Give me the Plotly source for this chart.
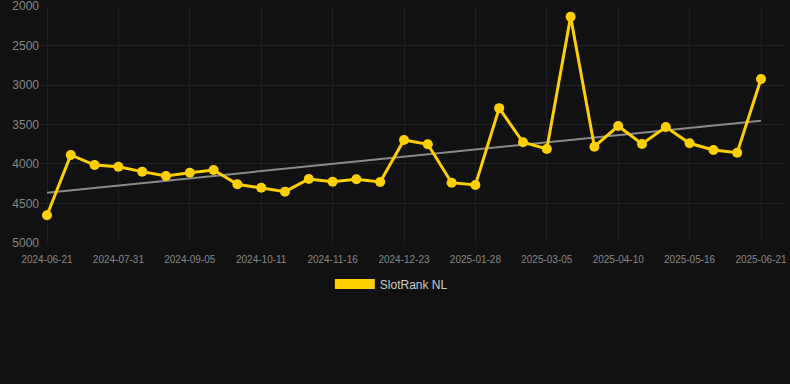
import plotly.graph_objects as go

dates = [
    "2024-06-21", "2024-07-04", "2024-07-17", "2024-07-31", "2024-08-12", "2024-08-24",
    "2024-09-05", "2024-09-17", "2024-09-29", "2024-10-11", "2024-10-23", "2024-11-04",
    "2024-11-16", "2024-11-28", "2024-12-11", "2024-12-23", "2025-01-04", "2025-01-16",
    "2025-01-28", "2025-02-09", "2025-02-21", "2025-03-05", "2025-03-17", "2025-03-29",
    "2025-04-10", "2025-04-22", "2025-05-04", "2025-05-16", "2025-05-28", "2025-06-09",
    "2025-06-21",
]
rank = [
    4650, 3886, 4013, 4034, 4097, 4152, 4110, 4076, 4257, 4300, 4350, 4190,
    4224, 4194, 4228, 3696, 3751, 4237, 4266, 3293, 3725, 3810, 2135, 3781,
    3519, 3747, 3532, 3738, 3823, 3857, 2924,
]
trend_dates = [dates[0], dates[-1]]
trend_vals = [4364, 3452]
tick_labels = dates[::3]
y_ticks = [2000, 2500, 3000, 3500, 4000, 4500, 5000]

YELLOW = "#FFD000"
FONT = "Liberation Sans, Arial, sans-serif"

fig = go.Figure()
fig.add_trace(go.Scatter(
    x=trend_dates, y=trend_vals, mode="lines",
    line=dict(color="#8a8a8a", width=2), showlegend=False, hoverinfo="skip",
))
fig.add_trace(go.Scatter(
    x=dates, y=rank, mode="lines+markers",
    line=dict(color=YELLOW, width=3), marker=dict(color=YELLOW, size=10),
    showlegend=False, name="SlotRank NL",
))
fig.add_trace(go.Scatter(
    x=[None], y=[None], mode="lines", name="SlotRank NL",
    line=dict(color=YELLOW, width=12), showlegend=True,
))

fig.update_layout(
    width=790, height=384,
    margin=dict(l=40, r=5, t=6, b=141),
    paper_bgcolor="#111111", plot_bgcolor="#111111",
    font=dict(family=FONT, color="#888888"),
    xaxis=dict(
        type="category", categoryorder="array", categoryarray=dates,
        range=[-0.294, 31.008], automargin=False,
        tickmode="array", tickvals=tick_labels, ticktext=tick_labels,
        tickfont=dict(size=10, color="#888888"), tickangle=0,
        ticklabelstandoff=9,
        showgrid=True, gridcolor="#1e1e1e", gridwidth=1,
        zeroline=False, showline=False, ticks="",
    ),
    yaxis=dict(
        range=[5000.5, 1999.5], tickmode="array", tickvals=y_ticks,
        tickfont=dict(size=12, color="#888888"), automargin=False,
        ticklabeloverflow="allow",
        showgrid=True, gridcolor="#222222", gridwidth=1,
        zeroline=False, showline=False, ticks="",
    ),
    legend=dict(
        orientation="h", x=0.389, xanchor="left", y=-0.173, yanchor="middle",
        itemwidth=40,
        font=dict(size=12, color="#cccccc"), bgcolor="rgba(0,0,0,0)",
    ),
    hovermode="closest",
)

fig.write_html("out.html")
